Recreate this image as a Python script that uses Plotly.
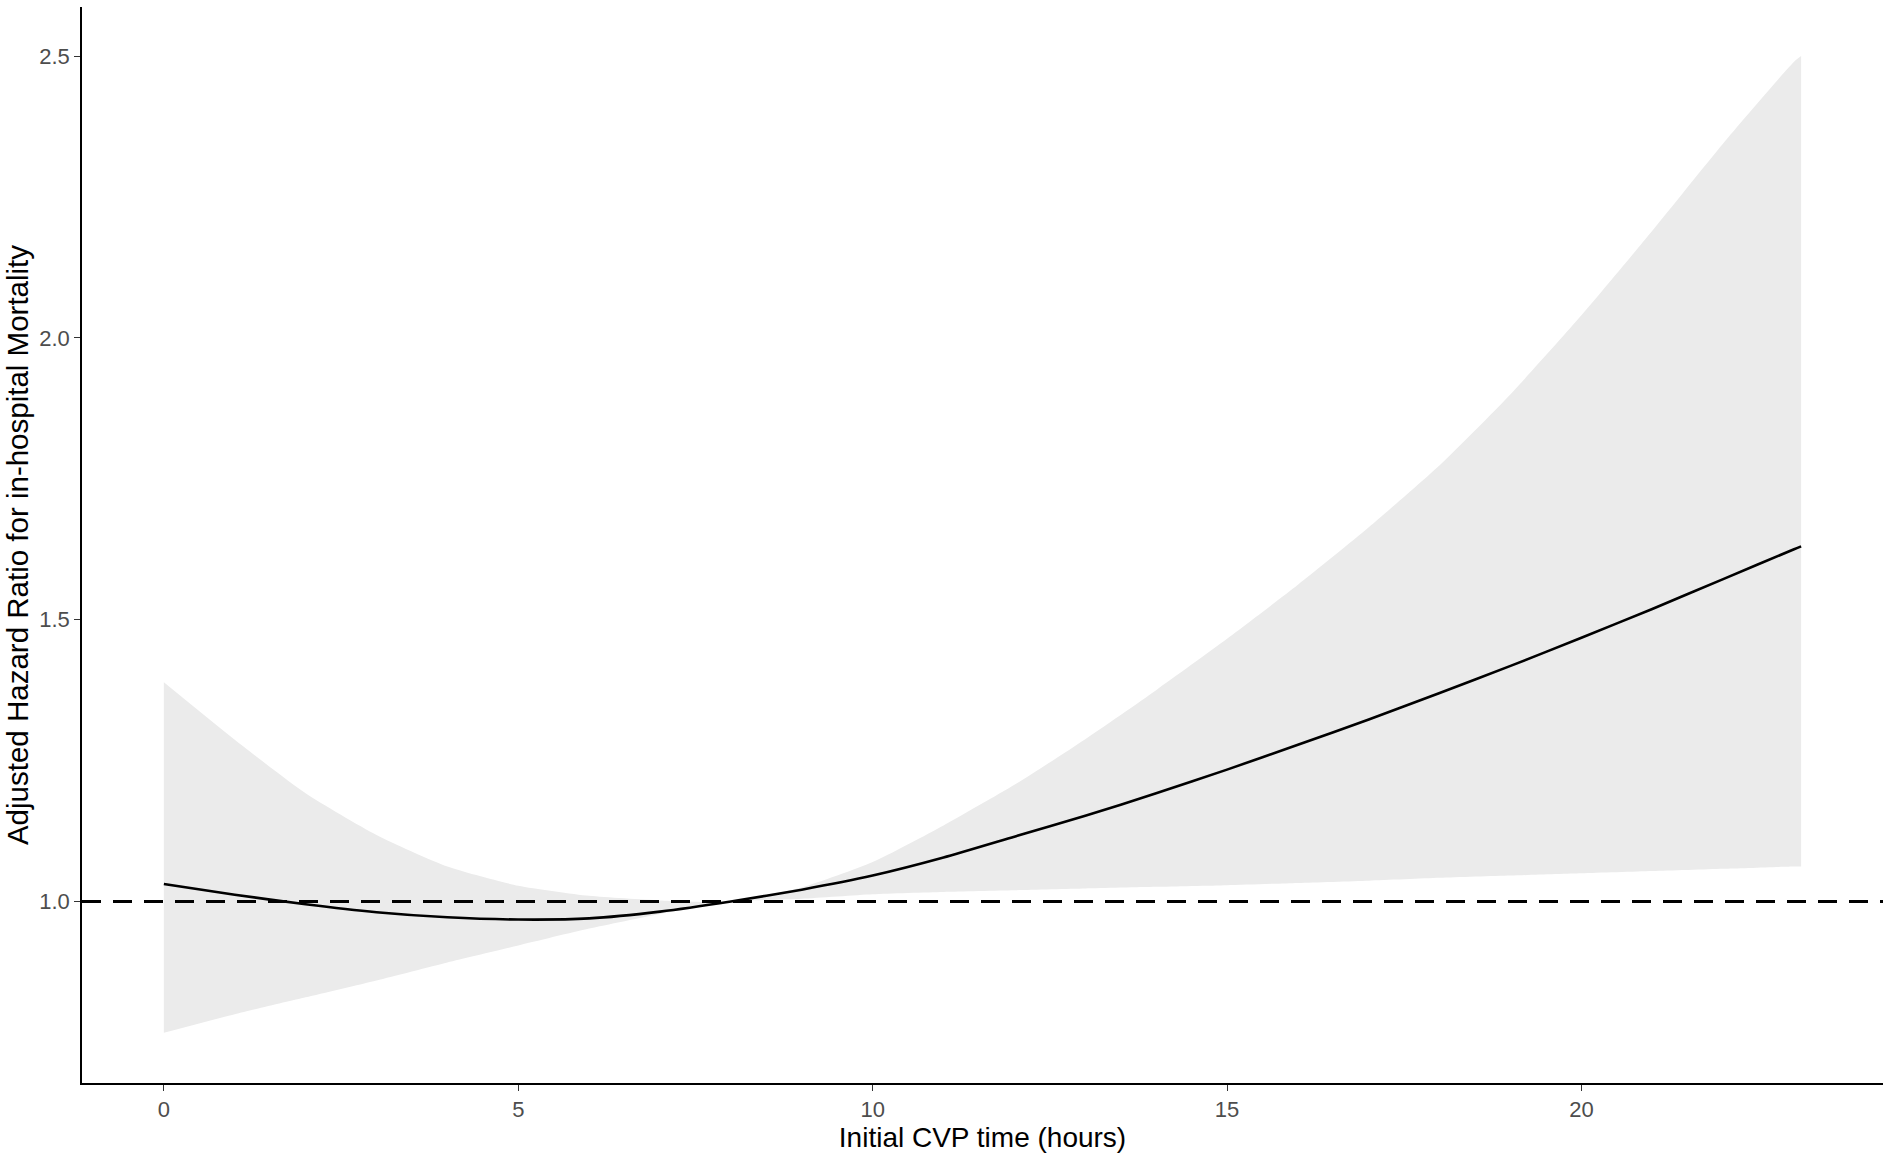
import plotly.graph_objects as go

# Initial CVP time (hours)
hours = [0, 1, 2, 3, 4, 5, 6, 7, 8, 9, 10, 11, 12, 13, 14, 15, 16, 17, 18, 19, 20, 21, 22, 23, 23.1]
# Adjusted hazard ratio (fitted curve)
hr = [1.031, 1.012, 0.995, 0.981, 0.972, 0.968, 0.970, 0.982, 1.000, 1.021, 1.046, 1.078, 1.115,
      1.152, 1.192, 1.234, 1.278, 1.323, 1.370, 1.418, 1.468, 1.519, 1.572, 1.625, 1.630]
# 95% CI upper bound
hr_upper = [1.389, 1.287, 1.192, 1.118, 1.062, 1.028, 1.010, 1.002, 1.000, 1.025, 1.070, 1.135, 1.207,
            1.288, 1.375, 1.466, 1.562, 1.664, 1.774, 1.900, 2.040, 2.190, 2.345, 2.490, 2.500]
# 95% CI lower bound
hr_lower = [0.767, 0.800, 0.830, 0.860, 0.892, 0.922, 0.952, 0.978, 1.000, 1.005, 1.013, 1.017, 1.020,
            1.023, 1.026, 1.029, 1.033, 1.037, 1.042, 1.046, 1.050, 1.054, 1.058, 1.062, 1.062]

x_ticks = [0, 5, 10, 15, 20]
y_ticks = [1.0, 1.5, 2.0, 2.5]
x_title = "Initial CVP time (hours)"
y_title = "Adjusted Hazard Ratio for in-hospital Mortality"

band_color = "#EBEBEB"
FONT = "Liberation Sans, Arial, sans-serif"

fig = go.Figure()
fig.add_trace(go.Scatter(x=hours, y=hr_lower, mode="lines",
                         line=dict(width=0, color=band_color, shape="spline", smoothing=0.6),
                         showlegend=False, hoverinfo="skip"))
fig.add_trace(go.Scatter(x=hours, y=hr_upper, mode="lines", fill="tonexty", fillcolor=band_color,
                         line=dict(width=0, color=band_color, shape="spline", smoothing=0.6),
                         showlegend=False, hoverinfo="skip"))
fig.add_hline(y=1.0, line=dict(color="black", width=3, dash="19px,12px"), layer="above")
fig.add_trace(go.Scatter(x=hours, y=hr, mode="lines",
                         line=dict(color="black", width=2.6, shape="spline", smoothing=0.6),
                         showlegend=False))

axis_common = dict(
    showline=True, linecolor="black", linewidth=1.6, mirror=False,
    showgrid=False, zeroline=False, automargin=False,
    ticks="outside", ticklen=6, tickwidth=1.2, tickcolor="#333333",
    tickfont=dict(family=FONT, size=22, color="#4D4D4D"),
)

fig.update_layout(
    width=1886, height=1162,
    margin=dict(l=82, r=3, t=7, b=79, autoexpand=False),
    paper_bgcolor="white", plot_bgcolor="white",
    font=dict(family=FONT, color="black"),
    xaxis=dict(range=[-1.155, 24.255], tickvals=x_ticks, ticktext=[str(v) for v in x_ticks],
               title=dict(text=x_title, font=dict(size=28, color="black"), standoff=4), **axis_common),
    yaxis=dict(range=[0.678, 2.587], tickvals=y_ticks, ticktext=[f"{v:.1f}" for v in y_ticks],
               title=dict(text=y_title, font=dict(size=29.5, color="black"), standoff=2), **axis_common),
)

fig.write_html("out.html", config={"displayModeBar": False},
               post_script="document.body.style.margin='0px';")
